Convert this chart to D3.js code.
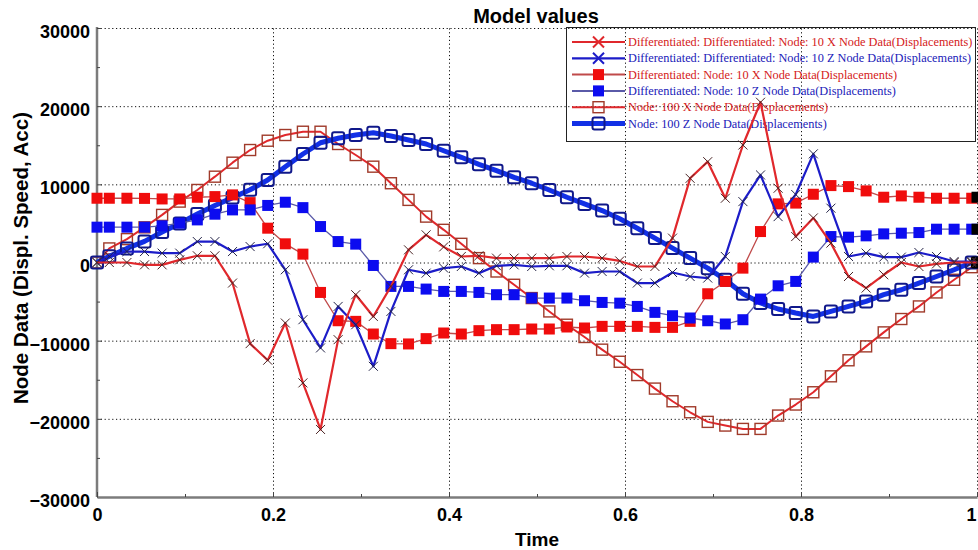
<!DOCTYPE html>
<html>
<head>
<meta charset="utf-8">
<script src="https://cdn.jsdelivr.net/npm/d3@7"></script>
<style>
  body { margin: 0; background: #fff; }
  svg { display: block; }
  .axis .tick text { font-family: "Liberation Sans", Arial, sans-serif; font-weight: bold; font-size: 18px; fill: #000; }
  .axis path.domain { stroke: #7c7c7c; stroke-width: 2.5; }
  .axis .tick line { stroke: #444; }
  .grid line { stroke: #111; stroke-dasharray: 1.2,2.6; }
  .grid path.domain { display: none; }
  .label { font-family: "Liberation Sans", Arial, sans-serif; font-weight: bold; font-size: 19px; fill: #000; }
  .legend text { font-family: "Liberation Serif", "Times New Roman", serif; font-size: 12.3px; }
</style>
</head>
<body>
<div id="chart"></div>
<script>
// sample times (the exported curves are shifted a little off the 0.02 grid)
const TIMES = [0, 0.014, 0.034, 0.054, 0.074, 0.094, 0.114, 0.134, 0.154, 0.174,
  0.194, 0.214, 0.234, 0.254, 0.274, 0.294, 0.314, 0.334, 0.354, 0.374,
  0.394, 0.414, 0.434, 0.454, 0.474, 0.494, 0.514, 0.534, 0.554, 0.574,
  0.594, 0.614, 0.634, 0.654, 0.674, 0.694, 0.714, 0.734, 0.754, 0.774,
  0.794, 0.814, 0.834, 0.854, 0.874, 0.894, 0.914, 0.934, 0.954, 0.974,
  0.994, 1];

const SERIES_NAMES = [
  "Differentiated: Differentiated: Node: 10 X Node Data(Displacements)",
  "Differentiated: Differentiated: Node: 10 Z Node Data(Displacements)",
  "Differentiated: Node: 10 X Node Data(Displacements)",
  "Differentiated: Node: 10 Z Node Data(Displacements)",
  "Node: 100 X Node Data(Displacements)",
  "Node: 100 Z Node Data(Displacements)"
];

const DIFF_DIFF_X = [0, 0, 0, -300, -300, 340, 860, 860, -2630, -10380,
  -12500, -7740, -15400, -21360, -9870, -4120, -6900, -3060, 1620, 3540,
  2000, 770, 860, 560, 560, 560, 560, 770, 770, 560,
  200, -510, -510, 3120, 10770, 12900, 8220, 15030, 20500, 9500,
  3320, 5700, 2480, -1790, -3270, -1570, 0, -510, -170, 0,
  0, 0];

const DIFF_DIFF_Z = [0, 770, 1400, 1400, 1200, 1200, 2680, 2680, 1400, 2040,
  2400, -930, -7320, -10930, -5620, -7960, -13280, -6260, -930, -1360,
  -720, -510, -1360, -420, -300, -510, -420, -420, -1360, -1150,
  -1150, -2630, -2630, -1280, -1790, -1990, 770, 7790, 11200, 5870,
  8700, 13900, 6950, 770, 1200, 690, 690, 1280, 770, 130,
  130, 0];

const DIFF_X = [8220, 8220, 8220, 8200, 8130, 8130, 8350, 8430, 8650, 7660,
  4390, 2390, 1070, -3830, -7450, -7530, -9150, -10380, -10420, -9740,
  -9020, -9150, -8720, -8590, -8590, -8510, -8510, -8250, -8380, -8170,
  -8170, -8170, -8300, -8300, -7530, -4000, -2420, -720, 3960, 7500,
  7600, 8730, 9840, 9710, 9160, 8350, 8520, 8350, 8220, 8220,
  8220, 8350];

const DIFF_Z = [4520, 4520, 4520, 4520, 4690, 5030, 5450, 6180, 6730, 6730,
  7300, 7710, 7020, 4600, 2680, 2350, -380, -3060, -3060, -3400,
  -3700, -3700, -3830, -4120, -4120, -4550, -4550, -4550, -4890, -5110,
  -5200, -5620, -6380, -6810, -7100, -7450, -7870, -7320, -4680, -2980,
  -2420, 690, 3320, 3240, 3410, 3660, 3750, 3830, 4260, 4260,
  4260, 4260];

const NODE_X = [0, 1800, 2990, 4500, 6090, 7790, 9280, 10980, 12770, 14390,
  15580, 16310, 16730, 16730, 15160, 13750, 12260, 10140, 8010, 5870,
  4180, 2390, 560, -1150, -2850, -4550, -6260, -7960, -9530, -11150,
  -12700, -14400, -16130, -17750, -19160, -20390, -20860, -21290, -21290, -19580,
  -18170, -16600, -14560, -12510, -10730, -8940, -7230, -5620, -3830, -2210,
  -600, 0];

const NODE_Z = [0, 800, 1800, 2700, 3900, 5000, 6200, 7300, 8300, 9300,
  10560, 12260, 13880, 15320, 15890, 16310, 16600, 16180, 15670, 15160,
  14300, 13460, 12560, 11750, 10900, 10140, 9280, 8350, 7500, 6640,
  5600, 4390, 3120, 1840, 560, -720, -2210, -4000, -5180, -5950,
  -6460, -6900, -6260, -5620, -4980, -4120, -3490, -2630, -1790, -930,
  0, 0];

const X_TICKS = [0, 0.2, 0.4, 0.6, 0.8, 1];
const X_MINOR = [0.1, 0.3, 0.5, 0.7, 0.9];
const Y_TICKS = [-30000, -20000, -10000, 0, 10000, 20000, 30000];
const Y_MINOR = [-25000, -15000, -5000, 5000, 15000, 25000];

const RED = "#e0282c", BLUE = "#1c1cc8";

// styles, in legend order
const STYLES = [
  { line: RED,  width: 2.2, marker: "x", stroke: "#4a2424", legendStroke: RED },
  { line: BLUE, width: 2.2, marker: "x", stroke: "#242448", legendStroke: BLUE },
  { line: "#c04a4a", width: 1.3, marker: "fill", fill: "#f00c0c", last: "#000" },
  { line: "#5a5aa8", width: 1.3, marker: "fill", fill: "#0c0cf0", last: "#000" },
  { line: RED,  width: 2, marker: "hollow", stroke: "#a03a2a", sw: 1.4, size: 11 },
  { line: "#1230e6", width: 5, marker: "hollow", stroke: "#10188a", sw: 2, size: 12, last: "#000" }
];
const DRAW_ORDER = [4, 5, 2, 3, 1, 0];

class ModelChart {
  constructor (options) {
    this.el = options.el;
    this.width = options.width;
    this.height = options.height;
    this.margin = options.margin || { top: 28, right: 1, bottom: 53, left: 97 };
    this.series = [DIFF_DIFF_X, DIFF_DIFF_Z, DIFF_X, DIFF_Z, NODE_X, NODE_Z]
      .map((vals, i) => ({
        name: SERIES_NAMES[i],
        style: STYLES[i],
        points: vals.map((v, k) => [TIMES[k], v])
      }));
  }

  draw () {
    this.svg = d3.select(this.el).append('svg')
      .attr('width', this.width)
      .attr('height', this.height);

    this.createScales();
    this.addGrid();
    this.addAxes();
    this.addLegend();
    DRAW_ORDER.forEach((i) => this.addSeries(this.series[i]));
    this.addLabels();
  }

  createScales () {
    const m = this.margin;
    this.x = d3.scaleLinear().domain([0, 1]).range([m.left, this.width - m.right]);
    this.y = d3.scaleLinear().domain([-30000, 30000]).range([this.height - m.bottom, m.top]);
  }

  addGrid () {
    const m = this.margin;
    this.svg.append('g')
      .attr('class', 'grid')
      .attr('transform', 'translate(' + m.left + ',0)')
      .call(d3.axisLeft(this.y).tickValues(Y_TICKS.slice(1))
        .tickSize(-(this.width - m.left - m.right)).tickFormat(''));

    this.svg.append('g')
      .attr('class', 'grid')
      .attr('transform', 'translate(0,' + (this.height - m.bottom) + ')')
      .call(d3.axisBottom(this.x).tickValues(X_TICKS.slice(1))
        .tickSize(-(this.height - m.top - m.bottom)).tickFormat(''));
  }

  addAxes () {
    const m = this.margin,
          bottom = this.height - m.bottom;

    const yAxis = this.svg.append('g')
      .attr('class', 'y axis')
      .attr('transform', 'translate(' + m.left + ',0)')
      .call(d3.axisLeft(this.y).tickValues(Y_TICKS).tickFormat(d3.format('d'))
        .tickSizeInner(-5).tickSizeOuter(0).tickPadding(7));
    yAxis.selectAll('.tick text').attr('dy', '0.52em');
    yAxis.select('.domain').attr('d', 'M0,' + (m.top - 1) + 'V' + bottom);

    const xAxis = this.svg.append('g')
      .attr('class', 'x axis')
      .attr('transform', 'translate(0,' + bottom + ')')
      .call(d3.axisBottom(this.x).tickValues(X_TICKS).tickFormat(d3.format('~g'))
        .tickSizeInner(-5).tickSizeOuter(0).tickPadding(11));
    // the last label sits on the window edge
    xAxis.selectAll('.tick text').filter((d) => d === 1).attr('x', -6);

    this.svg.append('g')
      .attr('class', 'axis')
      .attr('transform', 'translate(' + m.left + ',0)')
      .call(d3.axisLeft(this.y).tickValues(Y_MINOR).tickFormat('').tickSize(-3))
      .select('.domain').remove();

    this.svg.append('g')
      .attr('class', 'axis')
      .attr('transform', 'translate(0,' + bottom + ')')
      .call(d3.axisBottom(this.x).tickValues(X_MINOR).tickFormat('').tickSize(-3))
      .select('.domain').remove();
  }

  drawMarker (g, style, cx, cy, fillOverride, legend) {
    if (style.marker === 'x') {
      const r = legend ? 5.5 : 4.5;
      g.append('path')
        .attr('d', `M${cx - r},${cy - r}L${cx + r},${cy + r}M${cx - r},${cy + r}L${cx + r},${cy - r}`)
        .attr('stroke', legend ? style.legendStroke : style.stroke)
        .attr('stroke-width', legend ? 2 : 1)
        .attr('fill', 'none');
    } else if (style.marker === 'fill') {
      const s = 11;
      g.append('rect')
        .attr('x', cx - s / 2).attr('y', cy - s / 2)
        .attr('width', s).attr('height', s)
        .attr('fill', fillOverride || style.fill);
    } else {
      const s = style.size;
      g.append('rect')
        .attr('x', cx - s / 2).attr('y', cy - s / 2)
        .attr('width', s).attr('height', s)
        .attr('rx', style.width > 3 ? 2 : 0)
        .attr('fill', fillOverride || 'none')
        .attr('stroke', fillOverride ? 'none' : style.stroke)
        .attr('stroke-width', style.sw);
    }
  }

  addSeries (s) {
    const line = d3.line()
      .x((d) => this.x(d[0]))
      .y((d) => this.y(d[1]));

    const g = this.svg.append('g');
    g.append('path')
      .datum(s.points)
      .attr('d', line)
      .attr('fill', 'none')
      .attr('stroke', s.style.line)
      .attr('stroke-width', s.style.width)
      .attr('stroke-linejoin', 'round');

    const n = s.points.length;
    s.points.forEach((d, k) => {
      const last = (k === n - 1) && s.style.last;
      this.drawMarker(g, s.style, this.x(d[0]), this.y(d[1]), last ? s.style.last : null, false);
    });
  }

  addLegend () {
    const lg = this.svg.append('g').attr('class', 'legend');
    lg.append('rect')
      .attr('x', 566.5).attr('y', 27.5)
      .attr('width', 409).attr('height', 114)
      .attr('fill', 'none')
      .attr('stroke', '#222')
      .attr('stroke-width', 1);

    this.series.forEach((s, i) => {
      const cy = 42 + i * 16.3;
      lg.append('line')
        .attr('x1', 572).attr('x2', 625)
        .attr('y1', cy).attr('y2', cy)
        .attr('stroke', s.style.line)
        .attr('stroke-width', Math.max(s.style.width, 2));
      this.drawMarker(lg, s.style, 598.5, cy, null, true);
      lg.append('text')
        .attr('x', 628).attr('y', cy + 4)
        .attr('fill', i % 2 === 0 ? '#d42020' : '#2020b8')
        .text(s.name);
    });
  }

  addLabels () {
    this.svg.append('text')
      .attr('class', 'label')
      .attr('x', 536).attr('y', 22.5)
      .attr('text-anchor', 'middle')
      .style('font-size', '20px')
      .text('Model values');

    this.svg.append('text')
      .attr('class', 'label')
      .attr('x', 537).attr('y', 546)
      .attr('text-anchor', 'middle')
      .text('Time');

    this.svg.append('text')
      .attr('class', 'label')
      .attr('transform', 'translate(28,258) rotate(-90)')
      .attr('text-anchor', 'middle')
      .style('font-size', '20.5px')
      .text('Node Data (Displ. Speed, Acc)');
  }
}

new ModelChart({ el: '#chart', width: 978, height: 550 }).draw();
</script>
</body>
</html>
